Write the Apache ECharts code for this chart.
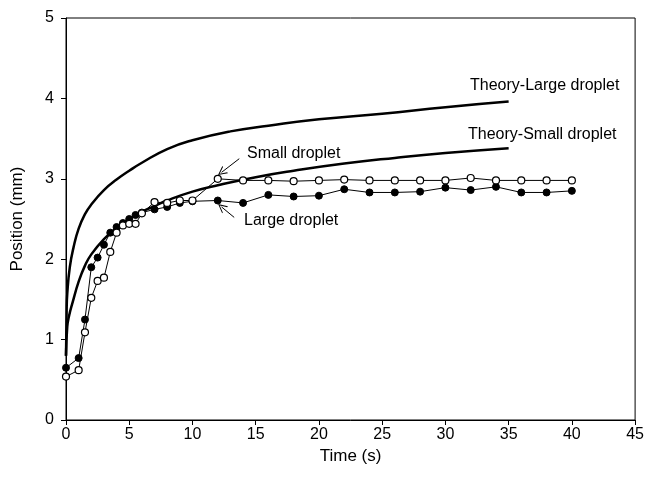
<!DOCTYPE html>
<html><head><meta charset="utf-8">
<script src="https://cdn.jsdelivr.net/npm/echarts@6/dist/echarts.min.js"></script>
<style>html,body{margin:0;padding:0;background:#fff}#c{width:647px;height:483px}</style>
</head><body><div id="c"></div>
<script>
// Experimental data
const largeT = [0,1,1.5,2,2.5,3,3.5,4,4.5,5,5.5,6,7,8,9,10,12,14,16,18,20,22,24,26,28,30,32,34,36,38,40];
const largeY = [0.65,0.77,1.25,1.90,2.02,2.18,2.33,2.40,2.45,2.50,2.55,2.58,2.62,2.65,2.70,2.72,2.73,2.70,2.80,2.78,2.79,2.87,2.83,2.83,2.84,2.89,2.86,2.90,2.83,2.83,2.85];
const smallT = [0,1,1.5,2,2.5,3,3.5,4,4.5,5,5.5,6,7,8,9,10,12,14,16,18,20,22,24,26,28,30,32,34,36,38,40];
const smallY = [0.54,0.62,1.09,1.52,1.73,1.77,2.09,2.33,2.42,2.44,2.44,2.57,2.71,2.70,2.73,2.73,3.00,2.98,2.98,2.97,2.98,2.99,2.98,2.98,2.98,2.98,3.01,2.98,2.98,2.98,2.98];
// Theory curves
const theoryLargeT = [0,0.05,0.1,0.3,0.6,1,1.5,2,3,4,5,6,8,10,13,16,20,25,30,35];
const theoryLargeY = [0.8,1.35,1.57,1.90,2.15,2.38,2.56,2.68,2.86,2.99,3.10,3.20,3.37,3.48,3.59,3.66,3.74,3.81,3.89,3.96];
const theorySmallT = [0,0.1,0.25,0.5,1,1.5,2,3,4,5,6,7,8,10,12,15,18,22,26,30,35];
const theorySmallY = [0.8,1.16,1.30,1.45,1.72,1.92,2.06,2.25,2.39,2.50,2.59,2.66,2.73,2.84,2.92,3.02,3.10,3.19,3.26,3.32,3.38];
const xTicks = [0,5,10,15,20,25,30,35,40,45];
const yTicks = [0,1,2,3,4,5];

const zip = (a,b)=>a.map((v,i)=>[v,b[i]]);
const font = 'Liberation Sans, Arial, sans-serif';
const chevron = 'path://M0,0 L6,10 L4.6,10 L0,2.4 L-4.6,10 L-6,10 Z';
const chart = echarts.init(document.getElementById('c'), null, {renderer:'canvas'});
chart.setOption({
  animation:false,
  backgroundColor:'#fff',
  grid:{left:66,right:11,top:18,bottom:63,show:true,borderColor:'#000',borderWidth:1,backgroundColor:'transparent'},
  xAxis:{type:'value',min:xTicks[0],max:xTicks[xTicks.length-1],interval:5,
    name:'Time (s)',nameLocation:'middle',nameGap:28,
    nameTextStyle:{fontFamily:font,fontSize:17,color:'#000'},
    axisLine:{lineStyle:{color:'#000',width:1}},axisTick:{inside:false,length:5,lineStyle:{color:'#000'}},
    axisLabel:{fontFamily:font,fontSize:16,color:'#000',margin:7},splitLine:{show:false}},
  yAxis:{type:'value',min:yTicks[0],max:yTicks[yTicks.length-1],interval:1,
    name:'Position (mm)',nameLocation:'middle',nameGap:40,
    nameTextStyle:{fontFamily:font,fontSize:17,color:'#000'},
    axisLine:{lineStyle:{color:'#000',width:1}},axisTick:{inside:false,length:5,lineStyle:{color:'#000'}},
    axisLabel:{fontFamily:font,fontSize:16,color:'#000',margin:12},splitLine:{show:false}},
  graphic:[
    {type:'text',left:470,top:78,style:{text:'Theory-Large droplet',font:'16px '+font,fill:'#000'}},
    {type:'text',left:468,top:127,style:{text:'Theory-Small droplet',font:'16px '+font,fill:'#000'}},
    {type:'text',left:247,top:146,style:{text:'Small droplet',font:'16px '+font,fill:'#000'}},
    {type:'text',left:244,top:213,style:{text:'Large droplet',font:'16px '+font,fill:'#000'}}
  ],
  series:[
    {type:'line',data:zip(theoryLargeT,theoryLargeY),showSymbol:false,smooth:true,lineStyle:{color:'#000',width:2.5},z:2},
    {type:'line',data:zip(theorySmallT,theorySmallY),showSymbol:false,smooth:true,lineStyle:{color:'#000',width:2.5},z:2,
      markLine:{silent:true,symbol:['none',chevron],symbolSize:[9,9],lineStyle:{color:'#000',width:1,type:'solid'},label:{show:false},
        data:[[{coord:[13.7,3.25]},{coord:[12.3,3.08]}],[{coord:[13.3,2.52]},{coord:[12.3,2.65]}]]}},
    {type:'line',data:zip(largeT,largeY),symbol:'circle',symbolSize:7,lineStyle:{color:'#000',width:1},
      itemStyle:{color:'#000',borderColor:'#000',borderWidth:1},z:3},
    {type:'line',data:zip(smallT,smallY),symbol:'circle',symbolSize:7,lineStyle:{color:'#000',width:1},
      itemStyle:{color:'#fff',borderColor:'#000',borderWidth:1.2},z:4}
  ]
});
</script></body></html>
